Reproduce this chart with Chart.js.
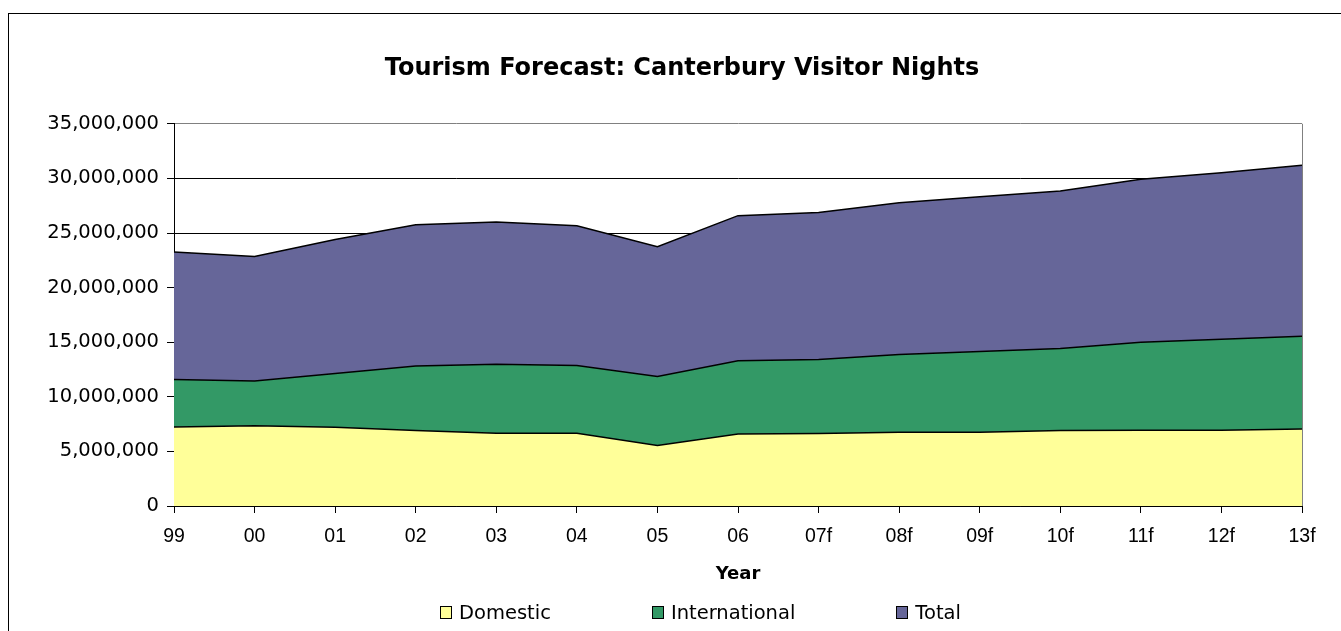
<!DOCTYPE html>
<html>
<head>
<meta charset="utf-8">
<script src="https://cdn.jsdelivr.net/npm/chart.js@4/dist/chart.umd.min.js"></script>
<style>
  html, body { margin: 0; padding: 0; background: #fff; overflow: hidden; }
  #wrap { position: relative; width: 1341px; height: 631px; }
  #frame { position: absolute; left: 8px; top: 13px; width: 1400px; height: 700px; border: 1px solid #000; box-sizing: border-box; }
  #chartBox { position: absolute; left: 0; top: 0; width: 1341px; height: 631px; }
  #legend { position: absolute; left: 440px; top: 601px; display: flex; gap: 101px; font-family: 'DejaVu Sans', Verdana, sans-serif; font-size: 19.5px; color: #000; }
  #legend .item { display: flex; align-items: center; white-space: nowrap; }
  #legend .box { width: 10px; height: 11px; border: 1px solid #000; margin-right: 7px; }
</style>
</head>
<body>
<div id="wrap">
  <div id="frame"></div>
  <div id="chartBox"><canvas id="tourismChart"></canvas></div>
  <div id="legend"></div>
</div>
<script>
// Year labels (f = forecast)
const years = ['99', '00', '01', '02', '03', '04', '05', '06', '07f', '08f', '09f', '10f', '11f', '12f', '13f'];

// Visitor nights
const domestic = [7240000, 7360000, 7210000, 6910000, 6660000, 6660000, 5540000, 6600000, 6630000, 6750000, 6750000, 6910000, 6940000, 6940000, 7060000];
const international = [4350000, 4080000, 4930000, 5900000, 6330000, 6210000, 6330000, 6700000, 6790000, 7130000, 7400000, 7510000, 8060000, 8340000, 8490000];
const total = [11660000, 11400000, 12270000, 12950000, 13020000, 12800000, 11880000, 13290000, 13450000, 13890000, 14170000, 14430000, 14930000, 15230000, 15650000];

const seriesNames = ['Domestic', 'International', 'Total'];
const seriesColors = ['#FFFF99', '#339966', '#666699'];

document.addEventListener('DOMContentLoaded', () => {
    const ctx = document.getElementById('tourismChart').getContext('2d');
    const lastIdx = years.length - 1;

    const chart = new Chart(ctx, {
        type: 'line',
        data: {
            labels: years,
            datasets: [domestic, international, total].map((values, i) => ({
                label: seriesNames[i],
                data: values,
                backgroundColor: seriesColors[i],
                borderColor: '#000',
                borderWidth: 1.5,
                fill: i === 0 ? 'origin' : '-1',
                tension: 0,
                pointRadius: 0
            }))
        },
        options: {
            responsive: true,
            maintainAspectRatio: false,
            animation: false,
            events: [],
            layout: {
                padding: { left: 40, right: 17, top: 14, bottom: 42 }
            },
            plugins: {
                legend: { display: false },
                tooltip: { enabled: false },
                title: {
                    display: true,
                    text: 'Tourism Forecast: Canterbury Visitor Nights',
                    color: '#000',
                    font: { family: "'DejaVu Sans', Verdana, sans-serif", size: 24, weight: 'bold' },
                    padding: { top: 40, bottom: 41 }
                }
            },
            scales: {
                x: {
                    offset: false,
                    grid: {
                        color: (c) => c.index === lastIdx ? '#808080' : 'rgba(0,0,0,0)',
                        tickColor: '#000',
                        tickLength: 7,
                        lineWidth: 1
                    },
                    border: { color: '#000', width: 1 },
                    ticks: {
                        color: '#000',
                        padding: 12,
                        maxRotation: 0,
                        autoSkip: false,
                        font: { family: "'Liberation Sans', Arial, sans-serif", size: 19.5 }
                    },
                    title: {
                        display: true,
                        text: 'Year',
                        color: '#000',
                        font: { family: "'DejaVu Sans', Verdana, sans-serif", size: 18, weight: 'bold' },
                        padding: { top: 3, bottom: 4 }
                    }
                },
                y: {
                    stacked: true,
                    min: 0,
                    max: 35000000,
                    afterFit: (scale) => { scale.width = 134; },
                    grid: {
                        color: (c) => c.tick && c.tick.value === 35000000 ? '#808080' : '#000',
                        tickColor: '#000',
                        tickLength: 7
                    },
                    border: { color: '#000', width: 1 },
                    ticks: {
                        stepSize: 5000000,
                        color: '#000',
                        padding: 8,
                        font: { family: "'DejaVu Sans', Verdana, sans-serif", size: 19.5 },
                        callback: (value) => value.toLocaleString('en-US')
                    }
                },
                // empty right-hand spacer so the title centres like the original
                spacer: {
                    position: 'right',
                    display: true,
                    grid: { display: false, drawTicks: false },
                    border: { display: false },
                    ticks: { display: false },
                    afterFit: (scale) => { scale.width = 22; }
                }
            }
        }
    });

    // HTML legend built from the chart's datasets
    const legendEl = document.getElementById('legend');
    chart.data.datasets.forEach(ds => {
        const item = document.createElement('div');
        item.className = 'item';
        const box = document.createElement('span');
        box.className = 'box';
        box.style.background = ds.backgroundColor;
        const text = document.createElement('span');
        text.textContent = ds.label;
        item.appendChild(box);
        item.appendChild(text);
        legendEl.appendChild(item);
    });
});
</script>
</body>
</html>
